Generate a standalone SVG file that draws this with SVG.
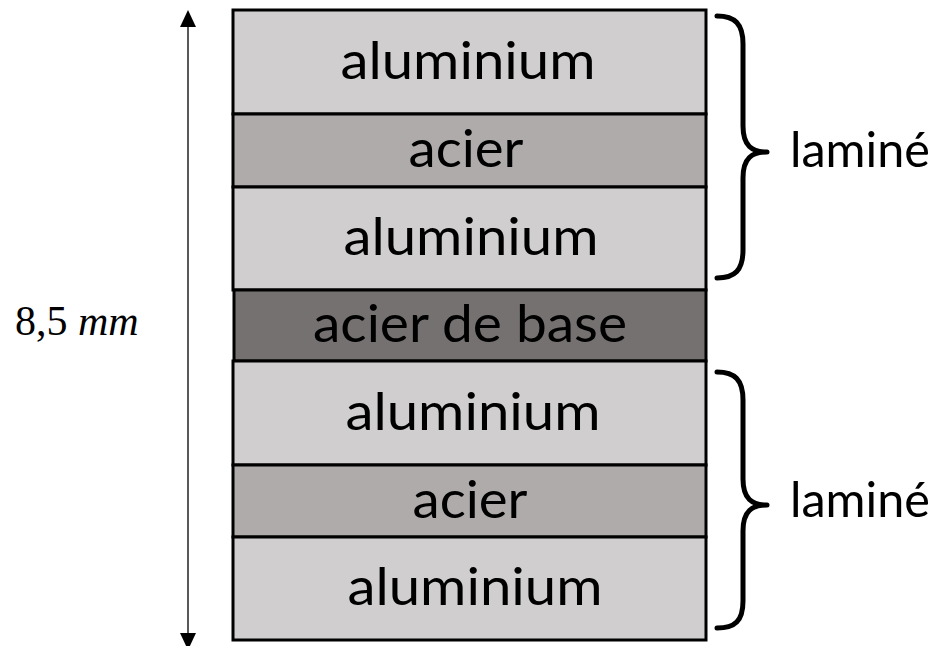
<svg xmlns="http://www.w3.org/2000/svg" width="944" height="646" viewBox="0 0 944 646">
<style>
.layer{stroke:#000;stroke-width:3}
.al{fill:#d0cece}
.ac{fill:#afabab}
.base{fill:#767171}
.lbl{font-family:Lato,"Open Sans",sans-serif;font-size:53px;fill:#000;text-anchor:middle}
.lam{font-family:Lato,"Open Sans",sans-serif;font-size:49px;fill:#000}
.brace{fill:none;stroke:#000;stroke-width:5;stroke-linecap:round;stroke-linejoin:round}
</style>
<rect width="944" height="646" fill="#fff"/>
<g id="connectors">
<line x1="188" y1="24" x2="188" y2="636" stroke="#595959" stroke-width="2"/>
<polygon points="188,10 180,27 196,27" fill="#000"/>
<polygon points="188,650 180,633 196,633" fill="#000"/>
</g>
<g id="al1"><rect class="layer al" x="233" y="10" width="473" height="104"/><text class="lbl" x="468" y="79" textLength="255" lengthAdjust="spacingAndGlyphs">aluminium</text></g>
<g id="ac1"><rect class="layer ac" x="233" y="114" width="473" height="73"/><text class="lbl" x="466" y="167" textLength="115" lengthAdjust="spacingAndGlyphs">acier</text></g>
<g id="al2"><rect class="layer al" x="233" y="187" width="473" height="103"/><text class="lbl" x="471" y="255" textLength="255" lengthAdjust="spacingAndGlyphs">aluminium</text></g>
<g id="base"><rect class="layer base" x="234" y="290" width="472" height="71"/><text class="lbl" x="470" y="342" textLength="314" lengthAdjust="spacingAndGlyphs">acier de base</text></g>
<g id="al3"><rect class="layer al" x="233" y="361" width="473" height="104"/><text class="lbl" x="473" y="430" textLength="255" lengthAdjust="spacingAndGlyphs">aluminium</text></g>
<g id="ac2"><rect class="layer ac" x="233" y="465" width="473" height="72"/><text class="lbl" x="470" y="518" textLength="115" lengthAdjust="spacingAndGlyphs">acier</text></g>
<g id="al4"><rect class="layer al" x="233" y="537" width="473" height="103"/><text class="lbl" x="475" y="605" textLength="255" lengthAdjust="spacingAndGlyphs">aluminium</text></g>
<g id="brace1">
<path class="brace" d="M717,16 C735,16 743,24 743,44 L743,126 C743,146 752,152 767,152 C752,152 743,158 743,178 L743,250 C743,270 735,278 717,278"/>
<text class="lam" x="790" y="167" textLength="140" lengthAdjust="spacingAndGlyphs">laminé</text>
</g>
<g id="brace2">
<path class="brace" d="M717,372 C735,372 743,380 743,400 L743,479 C743,499 752,505 767,505 C752,505 743,511 743,531 L743,601 C743,621 735,628 717,628"/>
<text class="lam" x="790" y="517" textLength="140" lengthAdjust="spacingAndGlyphs">laminé</text>
</g>
<g id="dim">
<text x="15" y="335" font-family="'Liberation Serif',serif" font-size="42" fill="#000">8,5 <tspan font-style="italic">mm</tspan></text>
</g>
</svg>
